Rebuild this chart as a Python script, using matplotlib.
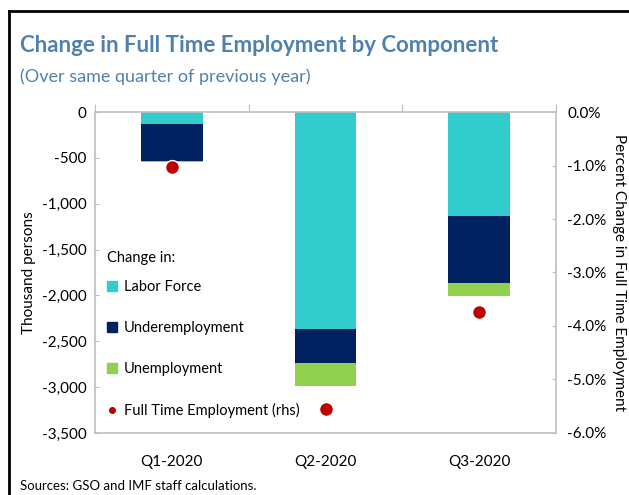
import matplotlib.pyplot as plt
from matplotlib.patches import Patch
from matplotlib.lines import Line2D
import numpy as np

plt.rcParams['font.family'] = ['Lato', 'DejaVu Sans']

categories = ['Q1-2020', 'Q2-2020', 'Q3-2020']
labor_force = [-135, -2365, -1135]
underemployment = [-400, -375, -730]
unemployment = [-12, -245, -145]
fte_pct = [-1.02, -5.55, -3.73]

c_lf = '#33CCCC'
c_under = '#002060'
c_unemp = '#92D050'
c_dot = '#C00000'
c_title = '#4F81AE'
c_axis = '#BFBFBF'

fig = plt.figure(figsize=(6.29, 4.95), dpi=100)
ax = fig.add_axes([0.151, 0.1253, 0.733, 0.6484])

x = np.arange(len(categories))
lf = np.array(labor_force)
ue = np.array(underemployment)
un = np.array(unemployment)
w = 0.40
ax.bar(x, lf, w, color=c_lf)
ax.bar(x, ue, w, bottom=lf, color=c_under)
ax.bar(x, un, w, bottom=lf + ue, color=c_unemp)

ax.set_xlim(-0.5, 2.5)
ax.set_ylim(-3500, 0)
ax.set_yticks(np.arange(-3500, 1, 500))
ax.set_yticklabels([f'{v:,}' for v in range(-3500, 1, 500)])
ax.tick_params(axis='y', direction='in', length=3, color=c_axis, labelsize=11, pad=6)
ax.set_ylabel('Thousand persons', fontsize=11, labelpad=4)

# category axis at zero (top), labels at the bottom
ax.set_xticks([-0.5, 0.5, 1.5, 2.5])
ax.set_xticklabels([])
ax.tick_params(axis='x', which='major', top=True, bottom=False, direction='out',
               length=6, color=c_axis)
ax.set_xticks(x, minor=True)
ax.set_xticklabels(categories, minor=True)
ax.tick_params(axis='x', which='minor', bottom=True, top=False, length=0,
               labelsize=11, pad=16)
for s in ax.spines.values():
    s.set_color(c_axis)
    s.set_linewidth(1.2)

ax2 = ax.twinx()
ax2.plot(x, fte_pct, 'o', color=c_dot, markersize=10, markeredgecolor='white',
         markeredgewidth=1.0, zorder=5)
ax2.set_ylim(-6, 0)
ax2.set_yticks(np.arange(-6, 0.1, 1))
ax2.set_yticklabels([f'{v:.1f}%' for v in np.arange(-6, 0.1, 1)])
ax2.tick_params(axis='y', direction='in', length=3, color=c_axis, labelsize=11, pad=8)
ax2.set_ylabel('Percent Change in Full Time Employment', fontsize=11,
               rotation=-90, labelpad=14)
for s in ax2.spines.values():
    s.set_visible(False)

handles = [Patch(color=c_lf), Patch(color=c_under), Patch(color=c_unemp),
           Line2D([], [], ls='none', marker='o', color=c_dot, markersize=4)]
labels = ['Labor Force', 'Underemployment', 'Unemployment', 'Full Time Employment (rhs)']
leg = ax2.legend(handles, labels, title='Change in:', loc='upper left',
                 bbox_to_anchor=(0.005, 0.60), frameon=False, fontsize=10.5,
                 title_fontsize=10.5, alignment='left', labelspacing=1.85,
                 handlelength=0.65, handleheight=0.7, handletextpad=0.45,
                 borderaxespad=0.3)
leg._legend_box.sep = 11

fig.text(0.032, 0.908, 'Change in Full Time Employment by Component', fontsize=16,
         fontweight='bold', color=c_title, va='center')
fig.text(0.032, 0.846, '(Over same quarter of previous year)', fontsize=13,
         color=c_title, va='center')
fig.text(0.032, 0.018, 'Sources: GSO and IMF staff calculations.', fontsize=9.5,
         va='center')

# outer frame
fig.add_artist(Line2D([0.015, 1.0], [0.978, 0.978], color='black', lw=2,
                      transform=fig.transFigure))
fig.add_artist(Line2D([0.015, 0.015], [0.0, 0.978], color='black', lw=2,
                      transform=fig.transFigure))

fig.savefig('out.png', dpi=100)
